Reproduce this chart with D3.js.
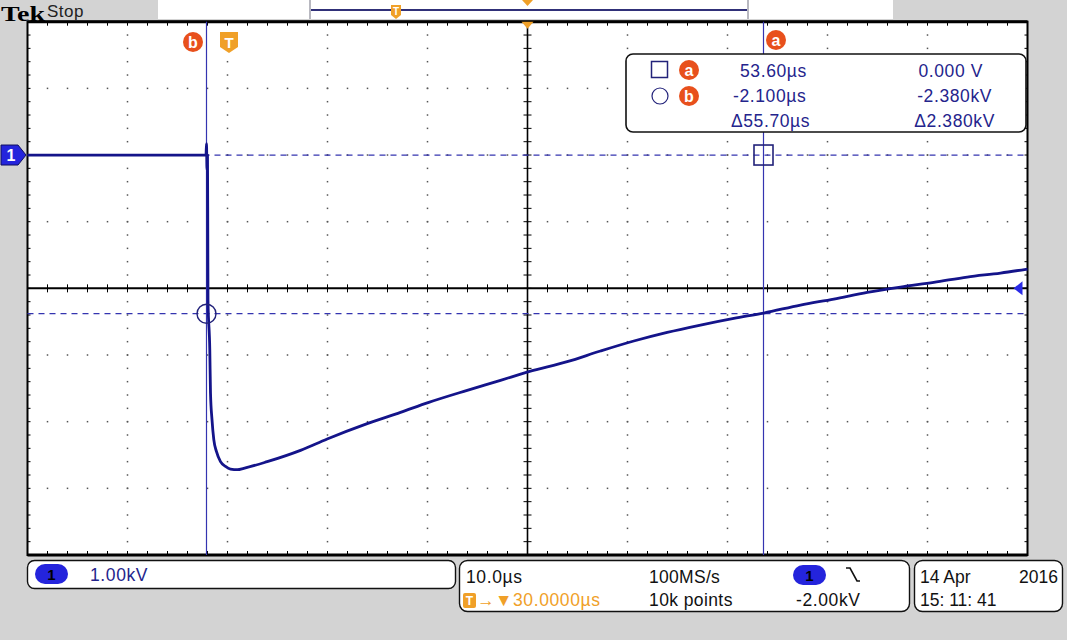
<!DOCTYPE html>
<html><head><meta charset="utf-8">
<script src="https://cdn.jsdelivr.net/npm/d3@7"></script>
<style>
html,body{margin:0;padding:0;background:#d3d3d3;}
svg{display:block;}
text{font-family:"Liberation Sans",Arial,sans-serif;}
</style></head>
<body><svg id="c" width="1067" height="640"></svg>
<script>
// ---- data (time in µs relative to trigger, voltage in kV) ----
const timeUs  = [-20,-15,-10,-5,-2.15,-2.1,-2.05,-2.0,-1.97,-1.95,-1.77,-1.7,-1.55,-1.37,-1.1,-0.7,-0.2,0.3,1.0,1.63,3.97,7.3,9.97,13.97,17.3,20.13,23.97,27.3,30.13,33.97,37.3,40.63,43.97,47.3,50.63,53.63,57.3,60.63,63.97,67.3,70.63,73.97,77.3,80];
const voltsKV = [0,0,0,0,0,0.17,-0.22,0,-1.2,-2.18,-2.93,-3.57,-3.97,-4.27,-4.45,-4.60,-4.67,-4.71,-4.72,-4.70,-4.60,-4.43,-4.26,-4.03,-3.86,-3.71,-3.53,-3.38,-3.25,-3.10,-2.94,-2.79,-2.66,-2.55,-2.45,-2.37,-2.25,-2.16,-2.06,-1.98,-1.91,-1.83,-1.77,-1.71];
const timeDomain = [-20, 80];      // 10 divisions × 10 µs
const voltDomain = [-6, 2];        // 8 divisions × 1 kV
const cursorTimes = [53.6, -2.1];  // a, b
const cursorVolts = [0, -2.38];    // a, b
const triggerLevel = [-2.0];
const readoutRows = [
  ["53.60µs", "0.000 V"],
  ["-2.100µs", "-2.380kV"],
  ["Δ55.70µs", "Δ2.380kV"]
];
const bottomTexts = ["1.00kV","10.0µs","100MS/s","-2.00kV","10k points","14 Apr","2016","15: 11: 41"];

// ---- layout ----
const svg = d3.select("#c");
const L = 27.5, R = 1027.5, T = 21.7, B = 555;
const x = d3.scaleLinear().domain(timeDomain).range([L, R]);
const y = d3.scaleLinear().domain(voltDomain).range([B, T]);
const navy = "#24248c", trace = "#14148a", cur = "#3434b0";
const orange = "#f0a028", red = "#e8501c";

// top bar
svg.append("rect").attr("x",158).attr("y",0).attr("width",735).attr("height",19).attr("fill","#fff");
svg.append("rect").attr("x",309).attr("y",0).attr("width",2).attr("height",19).attr("fill","#b8b8c0");
svg.append("rect").attr("x",747).attr("y",0).attr("width",2).attr("height",19).attr("fill","#b8b8c0");
svg.append("line").attr("x1",311).attr("x2",747).attr("y1",10).attr("y2",10).attr("stroke","#303078").attr("stroke-width",2);
svg.append("path").attr("d","M391,5 h10 v10 l-5,4 l-5,-4 z").attr("fill",orange);
svg.append("text").attr("x",396).attr("y",15).attr("text-anchor","middle").attr("font-size",10).attr("font-weight","bold").attr("fill","#fff").text("T");
svg.append("path").attr("d","M522,0 h11 l-5.5,6 z").attr("fill",orange);
svg.append("text").attr("x",1).attr("y",21).style("font-family","'Liberation Serif','DejaVu Serif',serif").attr("font-weight","bold").attr("font-size",22).attr("fill","#000").attr("textLength",44).attr("lengthAdjust","spacingAndGlyphs").text("Tek");
svg.append("text").attr("x",47).attr("y",17).attr("font-size",17).attr("fill","#222").attr("letter-spacing","0.5").text("Stop");

// graticule background
svg.append("rect").attr("x",L).attr("y",T).attr("width",R-L).attr("height",B-T).attr("fill","#fff");

const g = svg.append("g");
const xMajor = d3.range(timeDomain[0], timeDomain[1]+0.01, 10);
const yMajor = d3.range(voltDomain[0], voltDomain[1]+0.01, 1);
const xMinor = d3.range(timeDomain[0], timeDomain[1]+0.01, 2);
const yMinor = d3.range(voltDomain[0], voltDomain[1]+0.001, 0.2);
const dotCol = "#555";
// vertical dotted lines
xMajor.slice(1,-1).filter(t=>t!==30).forEach(t=>{
  yMinor.slice(1,-1).forEach(v=>{
    g.append("rect").attr("x",x(t)-0.75).attr("y",y(v)-0.75).attr("width",1.5).attr("height",1.5).attr("fill",dotCol);
  });
});
// horizontal dotted lines
yMajor.slice(1,-1).filter(v=>v!==-2).forEach(v=>{
  xMinor.slice(1,-1).forEach(t=>{
    g.append("rect").attr("x",x(t)-0.75).attr("y",y(v)-0.75).attr("width",1.5).attr("height",1.5).attr("fill",dotCol);
  });
});
// center crosshair
g.append("line").attr("x1",L).attr("x2",R).attr("y1",y(-2)).attr("y2",y(-2)).attr("stroke","#000").attr("stroke-width",2);
g.append("line").attr("x1",x(30)).attr("x2",x(30)).attr("y1",T).attr("y2",B).attr("stroke","#000").attr("stroke-width",1.6);
xMinor.forEach(t=>{
  g.append("line").attr("x1",x(t)).attr("x2",x(t)).attr("y1",y(-2)-4).attr("y2",y(-2)+4).attr("stroke","#000").attr("stroke-width",1);
  g.append("line").attr("x1",x(t)).attr("x2",x(t)).attr("y1",T).attr("y2",T+4).attr("stroke","#000").attr("stroke-width",1);
  g.append("line").attr("x1",x(t)).attr("x2",x(t)).attr("y1",B-4).attr("y2",B).attr("stroke","#000").attr("stroke-width",1);
});
yMinor.forEach(v=>{
  g.append("line").attr("x1",x(30)-4).attr("x2",x(30)+4).attr("y1",y(v)).attr("y2",y(v)).attr("stroke","#000").attr("stroke-width",1);
  g.append("line").attr("x1",L).attr("x2",L+3).attr("y1",y(v)).attr("y2",y(v)).attr("stroke","#000").attr("stroke-width",1);
  g.append("line").attr("x1",R-3).attr("x2",R).attr("y1",y(v)).attr("y2",y(v)).attr("stroke","#000").attr("stroke-width",1);
});
// border
g.append("rect").attr("x",L).attr("y",T).attr("width",R-L).attr("height",B-T).attr("fill","none").attr("stroke","#000").attr("stroke-width",2);
g.append("line").attr("x1",L).attr("x2",R).attr("y1",T).attr("y2",T).attr("stroke","#000").attr("stroke-width",3);
g.append("line").attr("x1",L).attr("x2",R).attr("y1",B).attr("y2",B).attr("stroke","#000").attr("stroke-width",3);

// cursors
cursorTimes.forEach(t=>{
  g.append("line").attr("x1",x(t)).attr("x2",x(t)).attr("y1",T).attr("y2",B).attr("stroke",cur).attr("stroke-width",1.2);
});
cursorVolts.forEach(v=>{
  g.append("line").attr("x1",L).attr("x2",R).attr("y1",y(v)).attr("y2",y(v)).attr("stroke",cur).attr("stroke-width",1.2).attr("stroke-dasharray","6,5");
});

// trace
const line = d3.line().x((d,i)=>x(timeUs[i])).y((d,i)=>y(voltsKV[i])).curve(d3.curveMonotoneX);
g.append("path").datum(voltsKV).attr("d",line).attr("fill","none").attr("stroke",trace).attr("stroke-width",2.8).attr("stroke-linejoin","round");

// cursor markers
g.append("rect").attr("x",x(cursorTimes[0])-9.5).attr("y",y(cursorVolts[0])-10).attr("width",19).attr("height",20).attr("fill","none").attr("stroke","#22227a").attr("stroke-width",1.6);
g.append("circle").attr("cx",x(cursorTimes[1])).attr("cy",y(cursorVolts[1])).attr("r",9.5).attr("fill","none").attr("stroke","#22227a").attr("stroke-width",1.4);

// badges
function badge(cx, cy, letter){
  svg.append("circle").attr("cx",cx).attr("cy",cy).attr("r",10).attr("fill",red);
  svg.append("text").attr("x",cx).attr("y",cy+5.5).attr("text-anchor","middle").attr("font-size",16).attr("font-weight","bold").attr("fill","#fff").text(letter);
}
badge(193, 42, "b");
badge(776, 40, "a");
svg.append("path").attr("d","M220,32 h18 v15 l-9,6 l-9,-6 z").attr("fill",orange);
svg.append("text").attr("x",229).attr("y",48).attr("text-anchor","middle").attr("font-size",15).attr("font-weight","bold").attr("fill","#fff").text("T");
svg.append("path").attr("d",`M${x(30)-6},${T} h12 l-6,7 z`).attr("fill",orange);

// ground marker & trigger level
svg.append("path").attr("d",`M1,${y(0)-10} h17 l8,10 l-8,10 h-17 z`).attr("fill","#2424dc").attr("stroke","#101060").attr("stroke-width",1);
svg.append("text").attr("x",11).attr("y",y(0)+6).attr("text-anchor","middle").attr("font-size",16).attr("font-weight","bold").attr("fill","#fff").text("1");
svg.append("path").attr("d",`M${R-14},${y(triggerLevel[0])} l9,-7 v14 z`).attr("fill","#2a2ae6");

// readout box
svg.append("rect").attr("x",626).attr("y",54).attr("width",400).attr("height",78).attr("rx",7).attr("fill","#fff").attr("stroke","#111").attr("stroke-width",1.6);
svg.append("rect").attr("x",651.5).attr("y",61.5).attr("width",16).attr("height",16).attr("fill","none").attr("stroke","#22227a").attr("stroke-width",1.5);
svg.append("circle").attr("cx",660).attr("cy",96).attr("r",8).attr("fill","none").attr("stroke","#22227a").attr("stroke-width",1.2);
badge(689, 70, "a");
badge(689, 96, "b");
const rowY = [77, 102, 127];
readoutRows.forEach((r,i)=>{
  svg.append("text").attr("x",[740,733,731][i]).attr("y",rowY[i]).attr("font-size",17.5).attr("fill",navy).attr("letter-spacing","0.6").text(r[0]);
  svg.append("text").attr("x",[983,992,995][i]).attr("y",rowY[i]).attr("text-anchor","end").attr("font-size",17.5).attr("fill",navy).attr("letter-spacing","0.6").text(r[1]);
});

// bottom boxes
svg.append("rect").attr("x",27.5).attr("y",560.5).attr("width",428).attr("height",28).attr("rx",7).attr("fill","#fff").attr("stroke","#111").attr("stroke-width",1.4);
svg.append("rect").attr("x",35).attr("y",564).attr("width",33).attr("height",20).attr("rx",10).attr("fill","#2424dc");
svg.append("text").attr("x",51.5).attr("y",580).attr("text-anchor","middle").attr("font-size",15).attr("font-weight","bold").attr("fill","#000").text("1");
svg.append("text").attr("x",90).attr("y",581).attr("font-size",17.5).attr("fill",navy).attr("letter-spacing","0.6").text(bottomTexts[0]);

svg.append("rect").attr("x",459.5).attr("y",560.5).attr("width",450).attr("height",51).attr("rx",8).attr("fill","#fff").attr("stroke","#111").attr("stroke-width",1.4);
svg.append("text").attr("x",466).attr("y",583).attr("font-size",17.5).attr("fill","#111").attr("letter-spacing","0.6").text(bottomTexts[1]);
svg.append("text").attr("x",649).attr("y",583).attr("font-size",17.5).attr("fill","#111").attr("letter-spacing","0.3").text(bottomTexts[2]);
svg.append("rect").attr("x",793).attr("y",565).attr("width",33).attr("height",20).attr("rx",10).attr("fill","#2424dc");
svg.append("text").attr("x",809.5).attr("y",581).attr("text-anchor","middle").attr("font-size",15).attr("font-weight","bold").attr("fill","#000").text("1");
svg.append("path").attr("d","M846,568 h4 l7,13 h3").attr("fill","none").attr("stroke","#111").attr("stroke-width",1.6);
svg.append("rect").attr("x",463).attr("y",593).attr("width",13).attr("height",15).attr("rx",2).attr("fill",orange);
svg.append("text").attr("x",469.5).attr("y",605).attr("text-anchor","middle").attr("font-size",12).attr("font-weight","bold").attr("fill","#fff").text("T");
svg.append("text").attr("x",477).attr("y",606).attr("font-size",17.5).attr("fill",orange).attr("letter-spacing","0.6").text("→▼30.0000µs");
svg.append("text").attr("x",649).attr("y",606).attr("font-size",17.5).attr("fill","#111").attr("letter-spacing","0.4").text(bottomTexts[4]);
svg.append("text").attr("x",796).attr("y",606).attr("font-size",17.5).attr("fill","#111").attr("letter-spacing","0.6").text(bottomTexts[3]);

svg.append("rect").attr("x",914.5).attr("y",560.5).attr("width",148).attr("height",51).attr("rx",8).attr("fill","#fff").attr("stroke","#111").attr("stroke-width",1.4);
svg.append("text").attr("x",920).attr("y",583).attr("font-size",17.5).attr("fill","#111").text(bottomTexts[5]);
svg.append("text").attr("x",1058).attr("y",583).attr("text-anchor","end").attr("font-size",17.5).attr("fill","#111").text(bottomTexts[6]);
svg.append("text").attr("x",920).attr("y",606).attr("font-size",17.5).attr("fill","#111").text(bottomTexts[7]);
</script></body></html>
